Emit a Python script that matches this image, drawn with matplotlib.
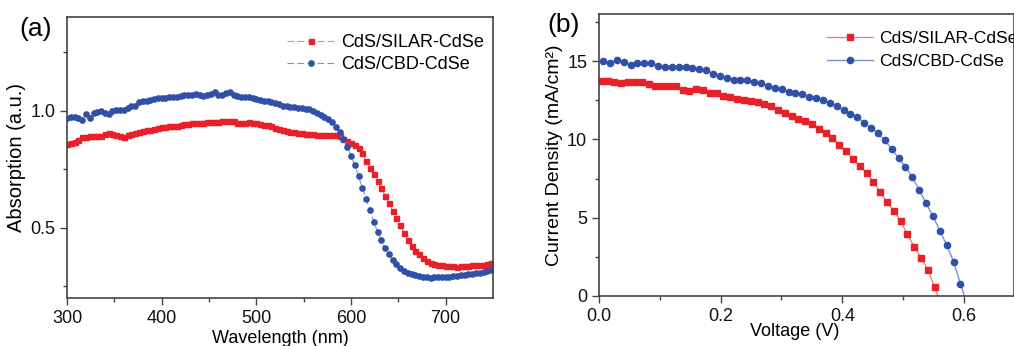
import numpy as np
import matplotlib
matplotlib.use("Agg")
import matplotlib.pyplot as plt

plt.rcParams['font.family'] = ['Liberation Sans', 'DejaVu Sans']

# ---------------- Panel (a): absorption ----------------
wavelength = np.arange(300, 749, 4)
abs_silar = [0.859, 0.862, 0.866, 0.876, 0.888, 0.889, 0.891, 0.890, 0.892, 0.893,
             0.902, 0.905, 0.900, 0.897, 0.890, 0.887, 0.895, 0.902, 0.906, 0.911,
             0.913, 0.916, 0.919, 0.922, 0.928, 0.930, 0.931, 0.933, 0.935, 0.935,
             0.937, 0.941, 0.944, 0.946, 0.946, 0.947, 0.948, 0.951, 0.953, 0.952,
             0.953, 0.954, 0.955, 0.956, 0.954, 0.948, 0.946, 0.949, 0.950, 0.949,
             0.947, 0.945, 0.940, 0.937, 0.933, 0.925, 0.920, 0.917, 0.912, 0.910,
             0.908, 0.905, 0.903, 0.902, 0.902, 0.900, 0.898, 0.897, 0.896, 0.895,
             0.897, 0.898, 0.890, 0.879, 0.871, 0.863, 0.853, 0.840, 0.820, 0.785,
             0.755, 0.728, 0.700, 0.669, 0.637, 0.605, 0.573, 0.541, 0.510, 0.478,
             0.448, 0.421, 0.401, 0.386, 0.371, 0.359, 0.350, 0.344, 0.341, 0.339,
             0.337, 0.336, 0.335, 0.334, 0.335, 0.336, 0.337, 0.339, 0.341, 0.342,
             0.343, 0.345, 0.351]
abs_cbd = [0.969, 0.971, 0.973, 0.970, 0.962, 0.985, 0.968, 0.990, 0.995, 0.997,
           0.990, 0.987, 1.000, 1.004, 1.003, 1.004, 1.010, 1.018, 1.022, 1.038,
           1.043, 1.040, 1.045, 1.050, 1.054, 1.056, 1.055, 1.058, 1.060, 1.058,
           1.062, 1.066, 1.068, 1.068, 1.071, 1.066, 1.061, 1.068, 1.072, 1.078,
           1.068, 1.067, 1.075, 1.078, 1.068, 1.062, 1.058, 1.060, 1.058, 1.055,
           1.050, 1.047, 1.043, 1.040, 1.036, 1.033, 1.030, 1.020, 1.018, 1.017,
           1.015, 1.012, 1.010, 1.008, 1.005, 1.000, 0.990, 0.982, 0.975, 0.965,
           0.950, 0.932, 0.908, 0.878, 0.845, 0.807, 0.766, 0.720, 0.671, 0.622,
           0.575, 0.526, 0.482, 0.446, 0.412, 0.386, 0.364, 0.345, 0.330, 0.316,
           0.307, 0.301, 0.297, 0.293, 0.291, 0.289, 0.287, 0.288, 0.289, 0.290,
           0.291, 0.291, 0.293, 0.295, 0.297, 0.299, 0.302, 0.304, 0.306, 0.308,
           0.311, 0.315, 0.320]

# ---------------- Panel (b): J-V ----------------
j_silar = [13.70, 13.70, 13.68, 13.62, 13.68, 13.68, 13.68, 13.51, 13.42, 13.42,
           13.42, 13.42, 13.17, 13.06, 13.19, 13.12, 12.96, 12.96, 12.79, 12.68,
           12.55, 12.49, 12.44, 12.38, 12.23, 12.10, 11.87, 11.68, 11.51, 11.27,
           11.14, 10.95, 10.68, 10.40, 10.08, 9.61, 9.23, 8.76, 8.31, 7.86,
           7.29, 6.65, 6.01, 5.43, 4.77, 3.94, 3.13, 2.45, 1.66, 0.55, -0.60]
v_silar = 0.003 + 0.0112 * np.arange(len(j_silar))
j_cbd = [14.98, 14.87, 15.06, 14.94, 14.74, 14.89, 14.85, 14.89, 14.68, 14.60,
         14.60, 14.60, 14.62, 14.55, 14.49, 14.41, 14.19, 14.04, 13.91, 13.78,
         13.78, 13.80, 13.68, 13.57, 13.40, 13.27, 13.21, 13.02, 12.93, 12.89,
         12.70, 12.62, 12.51, 12.32, 12.11, 11.85, 11.61, 11.42, 11.04, 10.74,
         10.40, 9.93, 9.38, 8.80, 8.23, 7.59, 6.76, 5.94, 5.09, 4.18,
         3.24, 2.20, 0.79, -0.60]
v_cbd = 0.0066 + 0.0113 * np.arange(len(j_cbd))

labels = ['CdS/SILAR-CdSe', 'CdS/CBD-CdSe']
red, red_line = '#E8202A', '#F08080'
blue, blue_line = '#3050A8', '#8090CC'
spine_col = '#444444'

fig = plt.figure(figsize=(10.14, 3.46), dpi=100)
W, H = 1014, 346
axa = fig.add_axes([67 / W, (H - 298) / H, (493 - 67) / W, (298 - 17) / H])
bw = 1014 - 599
axb = fig.add_axes([599 / W, (H - 296) / H, bw / W, (296 - 14) / H])

def style(ax):
    for s in ax.spines.values():
        s.set_color(spine_col)
        s.set_linewidth(1.2)
    ax.tick_params(which='both', direction='out', color=spine_col, width=1.0,
                   labelsize=13, labelcolor='#111111')
    ax.tick_params(which='major', length=5)
    ax.tick_params(which='minor', length=3)
    ax.tick_params(top=False, right=False)

# Panel (a)
axa.plot(wavelength, abs_silar, color=red_line, lw=0.8, marker='s', ms=3.6,
         mfc=red, mec=red, label=labels[0], dashes=(6, 3))
axa.plot(wavelength, abs_cbd, color=blue_line, lw=0.8, marker='o', ms=3.8,
         mfc=blue, mec=blue, label=labels[1], dashes=(6, 3))
axa.set_xlim(300, 750)
axa.set_ylim(0.2, 1.4)
axa.set_xticks([300, 400, 500, 600, 700])
axa.set_xticks(np.arange(350, 750, 100), minor=True)
axa.set_yticks([0.5, 1.0])
axa.set_yticks([0.25, 0.75, 1.25], minor=True)
axa.set_yticklabels(['0.5', '1.0'])
style(axa)
axa.set_xlabel('Wavelength (nm)', fontsize=13, labelpad=2)
axa.set_ylabel('Absorption (a.u.)', fontsize=14.5, labelpad=3)
axa.legend(loc='upper left', bbox_to_anchor=((280 - 67) / 426, 0.965), frameon=False,
           fontsize=13, handlelength=2.6, handletextpad=0.4, labelspacing=0.3,
           borderaxespad=0)
fig.text(36 / W, 1 - 29 / H, '(a)', fontsize=19, ha='center', va='center')

# Panel (b)
axb.plot(v_silar, j_silar, color=red_line, lw=1.0, marker='s', ms=4.2,
         mfc=red, mec=red, label=labels[0])
axb.plot(v_cbd, j_cbd, color=blue_line, lw=1.0, marker='o', ms=4.5,
         mfc=blue, mec=blue, label=labels[1])
axb.set_xlim(0, bw / 608.3)
axb.set_ylim(0, 18)
axb.set_xticks([0.0, 0.2, 0.4, 0.6])
axb.set_xticks([0.1, 0.3, 0.5], minor=True)
axb.set_yticks([0, 5, 10, 15])
axb.set_yticks([2.5, 7.5, 12.5, 17.5], minor=True)
axb.set_xticklabels(['0.0', '0.2', '0.4', '0.6'])
style(axb)
axb.set_xlabel('Voltage (V)', fontsize=13, labelpad=1)
axb.xaxis.set_label_coords((795 - 599) / bw, -0.095)
axb.set_ylabel('Current Density (mA/cm²)', fontsize=14, labelpad=3)
axb.legend(loc='upper left', bbox_to_anchor=((820 - 599) / bw, 0.965), frameon=False,
           fontsize=12.6, handlelength=2.6, handletextpad=0.4, labelspacing=0.45,
           borderaxespad=0)
fig.text(564 / W, 1 - 25 / H, '(b)', fontsize=19, ha='center', va='center')

fig.savefig('out.png', dpi=100)
